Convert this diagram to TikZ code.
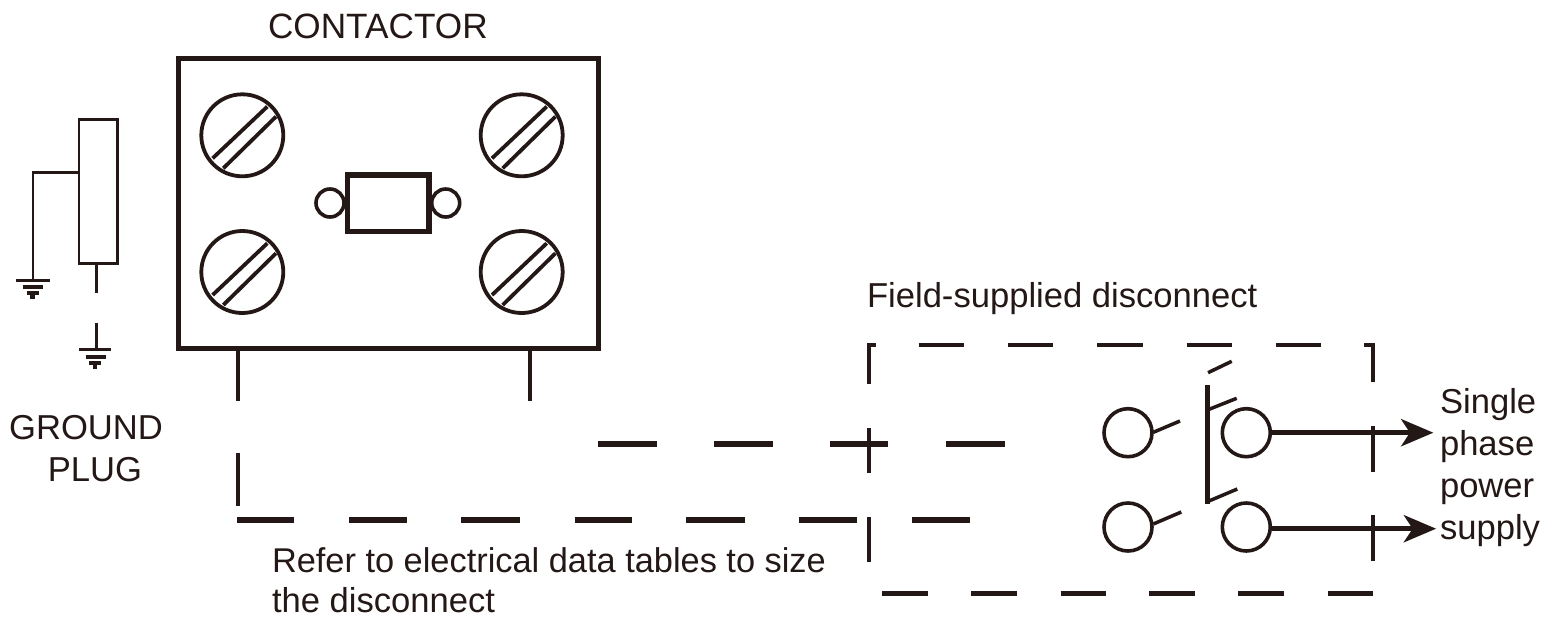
\documentclass[tikz,border=0pt]{standalone}
\usepackage{fontspec}
\setmainfont{Liberation Sans}
\usetikzlibrary{arrows.meta}
\definecolor{ink}{HTML}{231815}
\tikzset{
  lbl/.style={inner sep=0pt,outer sep=0pt,anchor=base west,text=ink,font=\fontsize{17.3pt}{21pt}\selectfont},
  lblc/.style={lbl,anchor=base},
  ink line/.style={draw=ink,line cap=butt,line join=miter},
  heavy/.style={ink line,line width=2.35pt},
  wire/.style={ink line,line width=1.75pt},
  thin wire/.style={ink line,line width=1.4pt},
  legwire/.style={ink line,line width=2pt},
  dashwire/.style={ink line,line width=2.6pt},
  boxdash/.style={ink line,line width=2pt},
  screw/.style={circle,ink line,line width=1.9pt,fill=white,minimum size=41pt,inner sep=0pt},
  lug/.style={circle,ink line,line width=1.8pt,fill=white,minimum size=14pt,inner sep=0pt},
  terminal/.style={circle,ink line,line width=1.8pt,fill=white,minimum size=24pt,inner sep=0pt},
  feed/.style={ink line,line width=2.4pt,-{Stealth[length=16.3pt,width=13.9pt,inset=4.6pt,line width=0pt]}},
}
\begin{document}
\begin{tikzpicture}[x=0.5pt,y=-0.5pt]
\useasboundingbox (0,0) rectangle (1542,616);
% contactor
\node[heavy,minimum width=209.85pt,minimum height=145pt,inner sep=0pt] (contactor) at (388.3,203.15) {};
\foreach \n/\x/\y in {s1/242.3/135.3,s2/242.3/272,s3/521.7/135.3,s4/521.7/272}{
  \node[screw] (\n) at (\x,\y) {};
  \draw[ink line,line width=1.9pt,shift={(\x,\y)}] (-29.7,23)--(25,-28.7) (-19,33)--(33.7,-18.7);
}
\node[lug] (lugL) at (330,203) {};
\node[lug] (lugR) at (445.7,203) {};
\node[ink line,line width=2.65pt,fill=white,minimum width=40.85pt,minimum height=28.15pt,inner sep=0pt] (coil) at (388.15,203.15) {};
\node[lbl,font=\fontsize{17.6pt}{21pt}\selectfont] (tcontactor) at (268,38.5) {CONTACTOR};
% ground plug
\node[thin wire,minimum width=19.15pt,minimum height=71.85pt,inner sep=0pt] (plug) at (98.15,191.45) {};
\coordinate (g1) at (33,280);
\draw[thin wire] (plug.west |- 0,172.3) -| (g1);
\draw[ink line,line width=1.5pt] (16,280)--(50,280);
\draw[ink line,line width=1.9pt] (23,287)--(43,287);
\draw[ink line,line width=1.8pt] (26.5,292.7)--(38.5,292.7);
\draw[ink line,line width=1.7pt] (30,297)--(35,297);
\coordinate (g2a) at (96.3,293.3);
\coordinate (g2b) at (96.3,323.3);
\coordinate (g2) at (96.3,349.3);
\draw[wire] (plug.south -| g2a) -- (g2a);
\draw[wire] (g2b) -- (g2);
\draw[ink line,line width=1.5pt] (79,349.3)--(111,349.3);
\draw[ink line,line width=1.9pt] (85.5,357)--(105.5,357);
\draw[ink line,line width=1.8pt] (89.3,362.7)--(101,362.7);
\draw[ink line,line width=1.7pt] (93,367)--(97,367);
\node[lblc] (tground) at (86,439) {GROUND};
\node[lblc] (tplug) at (95,481) {PLUG};
% legs
\coordinate (legA) at (238,401);
\coordinate (legB) at (530.2,401);
\draw[legwire] (contactor.south -| legA) -- (legA);
\draw[legwire] (contactor.south -| legB) -- (legB);
\draw[legwire] (238,452.7)--(238,505.7);
% field wiring dashes
\foreach \a/\b in {236.8/294,349/407,461.3/519.5,574.6/632,686/744.5,799/856.7,912/969.5}
  \draw[dashwire] (\a,520)--(\b,520);
\foreach \a/\b in {597.5/657,714/773,830/888,945.5/1004.7}
  \draw[dashwire] (\a,444)--(\b,444);
% disconnect box
\draw[boxdash] (875.6,345)-|(869,384);
\draw[boxdash] (869,428)--(869,473);
\draw[boxdash] (869,517)--(869,562);
\foreach \a in {918.6,1007.9,1097.2,1186.5,1275.8}
  \draw[boxdash] (\a,345)--({\a+45.5},345);
\draw[boxdash] (1364,345)-|(1373,382);
\draw[boxdash] (1373,426)--(1373,471.7);
\draw[boxdash] (1373,515)--(1373,560.7);
\foreach \a in {882,971,1060.5,1149.3,1238.3,1327.7}
  \draw[ink line,line width=2.4pt] (\a,593.7)--({\a+45.5},593.7);
% switch
\node[terminal] (t1) at (1128,432.7) {};
\node[terminal] (t2) at (1246.3,432.7) {};
\node[terminal] (t3) at (1128,527) {};
\node[terminal] (t4) at (1246.3,527) {};
\draw[wire] (1153.3,432.3)--(1180,421);
\draw[wire] (1153.3,524)--(1181.3,512);
\draw[ink line,line width=2.4pt] (1207.3,385)--(1207.3,504.3);
\draw[wire] (1207.3,410)--(1236.7,398.3);
\draw[wire] (1207.3,501.7)--(1237.3,489);
\draw[wire] (1208,372.7)--(1231.7,361.3);
\coordinate (out1) at (1433.3,432.7);
\coordinate (out2) at (1436,528.7);
\draw[feed] (t2.east) -- (out1);
\draw[feed] (t4.east |- out2) -- (out2);
% labels
\node[lbl] (tfield) at (867,307) {Field-supplied disconnect};
\node[lbl,font=\fontsize{17.18pt}{21pt}\selectfont] (trefer1) at (272,572) {Refer to electrical data tables to size};
\node[lbl] (trefer2) at (272,612) {the disconnect};
\node[lbl] (ts1) at (1440,413) {Single};
\node[lbl] (ts2) at (1440,455) {phase};
\node[lbl] (ts3) at (1440,497) {power};
\node[lbl] (ts4) at (1440,539) {supply};
\end{tikzpicture}
\end{document}
